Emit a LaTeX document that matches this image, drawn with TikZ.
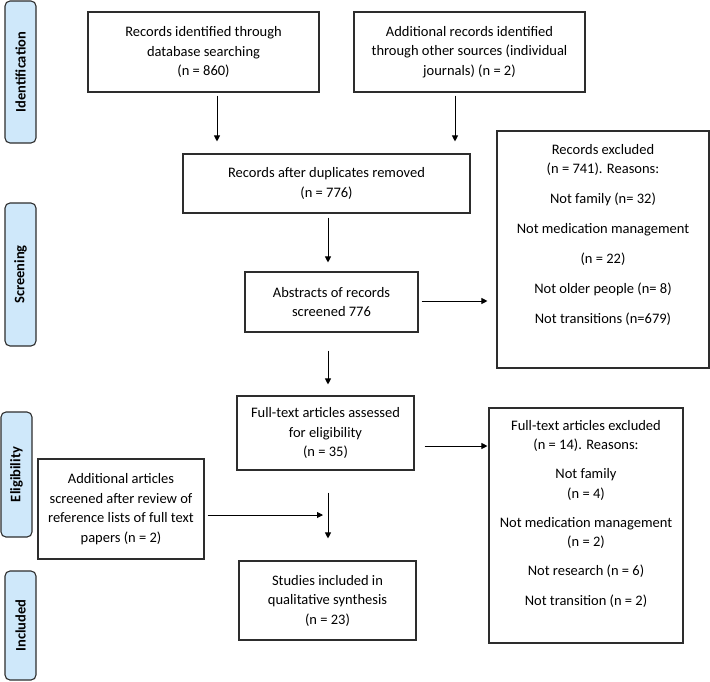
\documentclass[tikz,border=0pt]{standalone}
\usepackage{fontspec}
\setmainfont{Carlito}
\usetikzlibrary{arrows.meta}
\definecolor{sidefill}{RGB}{207,232,250}
\definecolor{edge}{RGB}{45,45,45}
\newcommand{\boxfont}{\fontsize{14.5}{19.5}\selectfont}
\tikzset{
  phase/.style={draw=edge, line width=1.1pt, fill=sidefill, rounded corners=5pt, inner sep=0pt,
     minimum width=31pt, font=\fontsize{14.5}{17}\selectfont\bfseries},
  box/.style={draw=edge, line width=1.1pt, inner sep=0pt, align=center,
     font=\boxfont},
  arr/.style={draw=black, line width=0.9pt, -{Triangle[length=6pt,width=6pt]}},
}
\begin{document}
\begin{tikzpicture}[x=1pt,y=-1pt]
\useasboundingbox (0,0) rectangle (710,681);
% phase labels
\node[phase, minimum height=142pt] (pid) at (20.5,72) {\rotatebox{90}{Identification}};
\node[phase, minimum height=143pt] (pscr) at (20.5,274.5) {\rotatebox{90}{Screening}};
\node[phase, minimum height=125pt] (pel) at (16.5,474.5) {\rotatebox{90}{Eligibility}};
\node[phase, minimum height=109pt] (pinc) at (20.5,625.5) {\rotatebox{90}{Included}};
% boxes
\node[box, minimum width=231pt, minimum height=80pt] (b1) at (203.5,52)
  {Records identified through\\database searching\\(n = 860)};
\node[box, minimum width=231pt, minimum height=80pt] (b2) at (469.5,52)
  {Additional records identified\\through other sources (individual\\journals) (n = 2)};
\node[box, minimum width=287pt, minimum height=59pt] (b3) at (326.5,183.5)
  {Records after duplicates removed\\(n = 776)};
\node[box, minimum width=173pt, minimum height=60pt] (b4) at (331.5,302)
  {Abstracts of records\\screened 776};
\node[box, minimum width=212pt, minimum height=237pt] (ex1) at (603,249.5)
  {\parbox[c][237pt][t]{212pt}{\centering\boxfont\vspace{13pt}Records excluded\\(n = 741). Reasons:\\[10.5pt]Not family (n= 32)\\[10.5pt]Not medication management\\[10.5pt](n = 22)\\[10.5pt]Not older people (n= 8)\\[10.5pt]Not transitions (n=679)}};
\node[box, minimum width=177pt, minimum height=74pt] (b5) at (325.5,433)
  {Full-text articles assessed\\for eligibility\\(n = 35)};
\node[box, minimum width=194pt, minimum height=235pt] (ex2) at (586,525.5)
  {\parbox[c][235pt][t]{194pt}{\centering\boxfont\vspace{12pt}Full-text articles excluded\\(n = 14). Reasons:\\[9.5pt]Not family\\(n = 4)\\[9.5pt]Not medication management\\(n = 2)\\[9.5pt]Not research (n = 6)\\[10.5pt]Not transition (n = 2)}};
\node[box, minimum width=166pt, minimum height=100pt] (side) at (121,509)
  {Additional articles\\screened after review of\\reference lists of full text\\papers (n = 2)};
\node[box, minimum width=177pt, minimum height=79pt] (b6) at (327.5,600.5)
  {Studies included in\\qualitative synthesis\\(n = 23)};
% connectors
\draw[arr, shorten <=3pt, shorten >=12pt] (b1.south -| 217,0) -- (b3.north -| 217,0);
\draw[arr, shorten <=3pt, shorten >=12pt] (b2.south -| 455,0) -- (b3.north -| 455,0);
\draw[arr, shorten <=4pt, shorten >=9pt] (b3.south -| 328,0) -- (b4.north -| 328,0);
\draw[arr, shorten <=3pt, shorten >=9pt] (b4.east |- 0,301) -- (ex1.west |- 0,301);
\draw[arr, shorten <=18pt, shorten >=11pt] (b4.south -| 328,0) -- (b5.north -| 328,0);
\draw[arr, shorten <=10pt, shorten >=1pt] (b5.east |- 0,446) -- (ex2.west |- 0,446);
\draw[arr, shorten <=22pt, shorten >=22pt] (b5.south -| 328,0) -- (b6.north -| 328,0);
\coordinate (join) at (323,515);
\draw[arr, shorten <=3pt] (side.east |- join) -- (join);
\end{tikzpicture}
\end{document}
